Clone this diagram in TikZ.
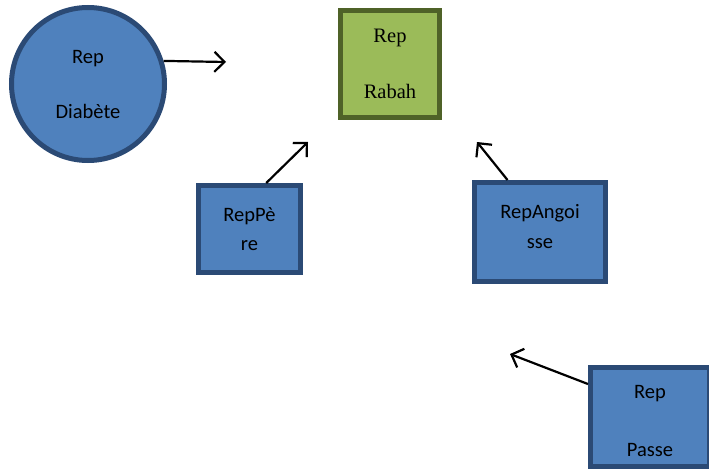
\documentclass[tikz,border=0pt]{standalone}
\usepackage{fontspec}
\setmainfont{Carlito}
\newfontfamily\timesfont{Liberation Serif}
\usetikzlibrary{arrows.meta}
\definecolor{repblue}{HTML}{4F81BD}
\definecolor{repborder}{HTML}{2B4A75}
\definecolor{repgreen}{HTML}{9BBB59}
\definecolor{greenborder}{HTML}{4F6228}

\begin{document}
\begin{tikzpicture}[x=1pt,y=-1pt,
	rep/.style={draw=repborder,fill=repblue,line width=5pt,align=center,
		inner sep=0pt,font=\fontsize{20.5}{24}\selectfont},
	rep circle/.style={rep,circle,minimum size=153pt},
	rep box/.style={rep,rectangle},
	>={Straight Barb[length=10pt,width=20pt]}]
	\useasboundingbox (0,0) rectangle (709,471);
	\clip (0,0) rectangle (709,471);
	% the nodes
	\node [rep circle] (diab) at (88,84) {Rep\\[31pt]Diabète};
	\node [rep box,fill=repgreen,draw=greenborder,minimum width=99pt,minimum height=107pt,
		font=\timesfont\fontsize{20.5}{24}\selectfont] (rabah) at (390,64) {Rep\\[32pt]Rabah};
	\node [rep box,minimum width=102pt,minimum height=87pt] (pere) at (249.5,229) {RepPè\\[5pt]re};
	\node [rep box,minimum width=131pt,minimum height=99pt] (ang) at (540,232)
		{RepAngoi\\[6pt]sse\rule[-12pt]{0pt}{12pt}};
	\node [rep box,minimum width=119pt,minimum height=99pt] (passe) at (650,417)
		{\rule{0pt}{22pt}Rep\\[34pt]Passe};
	% free ends of the arrows
	\coordinate (endDiab) at (226,62);
	\coordinate (endPere) at (308,142);
	\coordinate (endAng) at (477,142);
	\coordinate (endPasse) at (510,354);
	\foreach \s/\t in {diab.17/endDiab,pere.70/endPere,ang.122/endAng,passe.152/endPasse}
		\draw [->,line width=2.2pt] (\s) -- (\t);
\end{tikzpicture}
\end{document}
